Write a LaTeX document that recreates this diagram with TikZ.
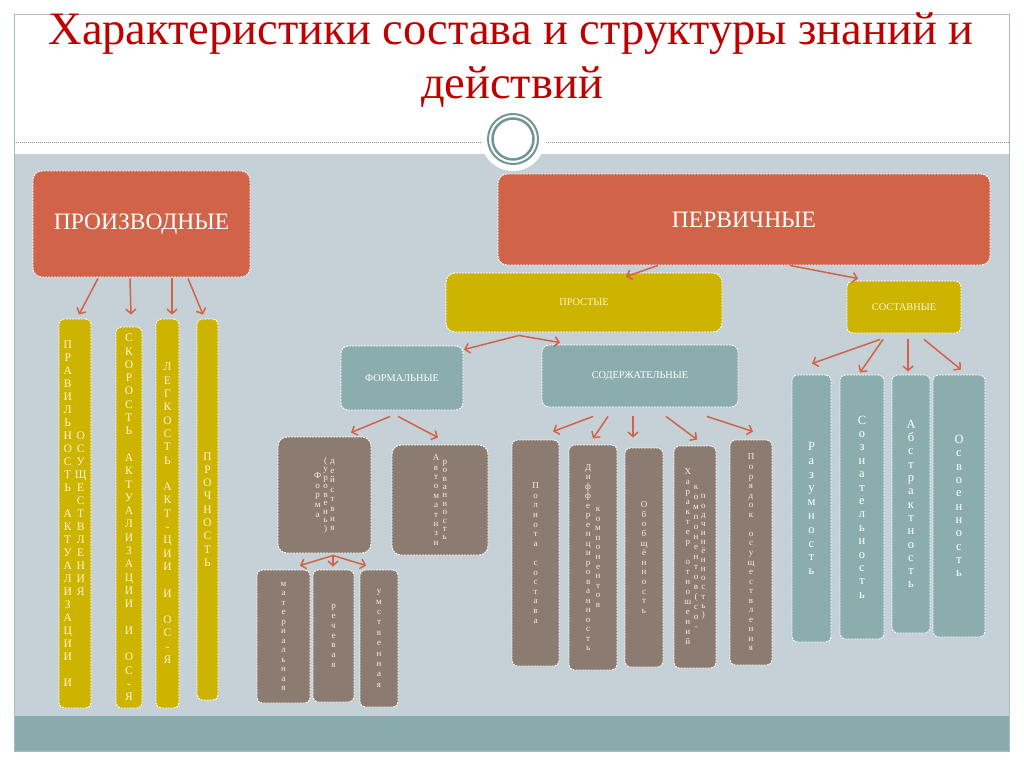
\documentclass[tikz,border=0pt]{standalone}
\usepackage{fontspec}
\setmainfont{Liberation Serif}
\usetikzlibrary{arrows.meta,calc}
\definecolor{cor}{HTML}{D16349}
\definecolor{cye}{HTML}{CCB400}
\definecolor{ctl}{HTML}{8CADAE}
\definecolor{cbr}{HTML}{8C7B70}
\definecolor{cgr}{HTML}{C5D1D7}
\definecolor{cband}{HTML}{8AABAB}
\definecolor{ctitle}{HTML}{C00000}
\definecolor{cring}{HTML}{6F9595}
\definecolor{cframe}{HTML}{A9BCC2}
\definecolor{ccream}{HTML}{FFF6D5}
\definecolor{cpale}{HTML}{F6ECE6}
\ExplSyntaxOn
\cs_new_protected:Npn \vs_build:nn #1#2
  {
    \tl_clear:N \l_tmpa_tl
    \str_map_inline:nn {#2} { \tl_put_right:Nn \l_tmpa_tl { ##1 \cr } }
    \baselineskip = #1 \relax
    \lineskiplimit = -\maxdimen
    \lineskip = 0pt \relax
    \halign { \hfil ## \hfil \cr \l_tmpa_tl }
  }
\NewDocumentCommand \vcol { O{13pt} m }
  { \ensuremath { \vcenter { \vs_build:nn {#1} {#2} } } }
\ExplSyntaxOff
\tikzset{
  bx/.style={draw=white, line width=0.9pt, dash pattern=on 2pt off 1pt, rounded corners=9pt, inner sep=0pt, text=white},
  cbx/.style={bx, rounded corners=5pt},
  arr/.style={draw=cor, line width=1.5pt, -{Straight Barb[length=4.5pt,width=10pt]}},
  bigl/.style={font=\fontsize{23.5}{26}\selectfont},
  smll/.style={font=\fontsize{10.3}{12}\selectfont},
  ycol/.style={cbx, fill=cye, text=ccream, font=\fontsize{11.5}{13}\selectfont},
  bcol/.style={cbx, fill=cbr, text=cpale, font=\fontsize{9}{9.6}\selectfont},
  tcol/.style={cbx, fill=ctl, font=\fontsize{12.5}{13.4}\selectfont},
  ttl/.style={font=\fontsize{46.5}{50}\selectfont, text=ctitle, anchor=base, inner sep=0pt},
}
\begin{document}
\begin{tikzpicture}[x=1pt,y=-1pt]
\useasboundingbox (0,0) rectangle (1024,767);
\fill[white] (0,0) rectangle (1024,767);
\fill[cgr] (14,154) rectangle (1009,716);
\fill[cband] (14,716) rectangle (1009,751);
\draw[cframe, line width=0.8pt] (14,14) rectangle (1009,751);
\draw[cring, line width=0.8pt, dash pattern=on 1pt off 1pt] (14,142) -- (1009,142);
\fill[white] (513,139) circle (32pt);
\draw[cring, line width=2pt] (513,139) circle (25pt);
\draw[cring, line width=2.5pt] (513,139) circle (20.5pt);
\node[ttl] (t1) at (511,45) {Характеристики состава и структуры знаний и};
\node[ttl] (t2) at (512,99) {действий};
% main boxes
\node[bx, fill=cor, minimum width=217pt, minimum height=106pt, bigl] (proizv) at (141.5,224) {ПРОИЗВОДНЫЕ};
\node[bx, fill=cor, minimum width=492pt, minimum height=91pt, bigl] (perv) at (744,219.5) {ПЕРВИЧНЫЕ};
\node[bx, fill=cye, text=ccream, minimum width=276pt, minimum height=59pt, smll] (prost) at (584,302.5) {ПРОСТЫЕ};
\node[bx, fill=cye, text=ccream, minimum width=114pt, minimum height=52pt, smll, rounded corners=6pt] (sost) at (904,307) {СОСТАВНЫЕ};
\node[bx, fill=ctl, minimum width=122pt, minimum height=64pt, smll, rounded corners=7pt] (form) at (402,378) {ФОРМАЛЬНЫЕ};
\node[bx, fill=ctl, minimum width=196pt, minimum height=62pt, smll, rounded corners=7pt] (soder) at (640,376) {СОДЕРЖАТЕЛЬНЫЕ};
% yellow columns
\node[ycol, minimum width=32pt, minimum height=389pt] (y1) at (75,513.5) {\vcol{ПРАВИЛЬНОСТЬ АКТУАЛИЗАЦИИ И}\hspace{3pt}\vcol{ОСУЩЕСТВЛЕНИЯ}};
\node[ycol, minimum width=26pt, minimum height=381pt] (y2) at (129,517.5) {\vcol[13.3pt]{СКОРОСТЬ АКТУАЛИЗАЦИИ И ОС-Я}};
\node[ycol, minimum width=23pt, minimum height=389pt] (y3) at (167.5,513.5) {\vcol[13.3pt]{ЛЕГКОСТЬ АКТ-ЦИИ И ОС-Я}};
\node[ycol, minimum width=21pt, minimum height=381pt] (y4) at (207.5,509.5) {\vcol[13.3pt]{ПРОЧНОСТЬ}};
% brown boxes
\node[bcol, rounded corners=9pt, minimum width=93pt, minimum height=116pt] (fm) at (324.5,495) {\vcol[9.7pt]{Форма}\hspace{2pt}\vcol[8.5pt]{(уровень)}\hspace{2pt}\vcol[9.6pt]{действия}};
\node[bcol, rounded corners=9pt, minimum width=96pt, minimum height=110pt] (avt) at (440,500) {\vcol[9.4pt]{Автоматизи}\hspace{3pt}\vcol[8.4pt]{рованность}};
\node[bcol, minimum width=53pt, minimum height=133pt] (mat) at (283.5,636.5) {\vcol[9.5pt]{материальная}};
\node[bcol, minimum width=41pt, minimum height=132pt] (rech) at (333.5,636) {\vcol[9.8pt]{речевая}};
\node[bcol, minimum width=38pt, minimum height=137pt] (umst) at (379,638.5) {\vcol[10.4pt]{умственная}};
\node[bcol, minimum width=47pt, minimum height=226pt] (poln) at (535.5,553) {\vcol[9.6pt]{Полнота состава}};
\node[bcol, minimum width=48pt, minimum height=225pt] (diff) at (593,557.5) {\vcol[9.5pt]{Дифференцированность}\hspace{4pt}\vcol[9.6pt]{компонентов}};
\node[bcol, minimum width=38pt, minimum height=219pt] (obob) at (644,557.5) {\vcol[9.6pt]{Обобщённость}};
\node[bcol, minimum width=42pt, minimum height=222pt] (har) at (695,557) {\vcol[10pt]{Характер отношений}\hspace{2pt}\vcol[10pt]{компонентов(со-}\hspace{2pt}\vcol[9.1pt]{подчинённость)}};
\node[bcol, minimum width=42pt, minimum height=225pt] (por) at (751,552.5) {\vcol[9.55pt]{Порядок осуществления}};
% teal columns
\node[tcol, minimum width=39pt, minimum height=267pt] (raz) at (811.5,508.5) {\vcol[13.8pt]{Разумность}};
\node[tcol, minimum width=44pt, minimum height=264pt] (soz) at (862,507) {\vcol[13.4pt]{Сознательность}};
\node[tcol, minimum width=38pt, minimum height=258pt] (abs) at (911,504) {\vcol[13.3pt]{Абстрактность}};
\node[tcol, minimum width=52pt, minimum height=262pt] (osv) at (959,506) {\vcol[13.3pt]{Освоенность}};
% arrows
\draw[arr] ($(proizv.south)+(-43.5,1)$) -- ($(y1.north)+(4,-4)$);
\draw[arr] ($(proizv.south)+(-11.5,1)$) -- ($(y2.north)+(2,-12)$);
\draw[arr] ($(proizv.south)+(30.5,1)$) -- ($(y3.north)+(4.5,-4)$);
\draw[arr] ($(proizv.south)+(46.5,1)$) -- ($(y4.north)+(-4.5,-4)$);
\draw[arr] ($(perv.south)+(-86,0)$) -- ($(prost.north)+(42,4)$);
\draw[arr] ($(perv.south)+(46,0)$) -- ($(sost.north)+(-46,-2)$);
\draw[arr] ($(prost.south)+(-65,3)$) -- ($(form.north)+(62,4)$);
\draw[arr] ($(prost.south)+(-65,3)$) -- ($(soder.north)+(-80,-2)$);
\draw[arr] ($(form.south)+(-12,6)$) -- ($(fm.north)+(26.5,-4)$);
\draw[arr] ($(form.south)+(-4,6)$) -- ($(avt.north)+(-2,-7)$);
\draw[arr] ($(soder.south)+(-47,9)$) -- ($(poln.north)+(17.5,-8)$);
\draw[arr] ($(soder.south)+(-32,9)$) -- ($(diff.north)+(0,-6)$);
\draw[arr] ($(soder.south)+(-7,9)$) -- ($(obob.north)+(-11,-10)$);
\draw[arr] ($(soder.south)+(26,9)$) -- ($(har.north)+(2,-6)$);
\draw[arr] ($(soder.south)+(67,9)$) -- ($(por.north)+(2,-8)$);
\draw[arr] ($(sost.south)+(-24,6)$) -- ($(raz.north)+(0.5,-11)$);
\draw[arr] ($(sost.south)+(-21,6)$) -- ($(soz.north)+(-2,-2)$);
\draw[arr] ($(sost.south)+(4,6)$) -- ($(abs.north)+(-3,-3)$);
\draw[arr] ($(sost.south)+(20,6)$) -- ($(osv.north)+(2,-5)$);
\draw[arr] ($(fm.south)+(8.5,2)$) -- ($(mat.north)+(16.5,-4)$);
\draw[arr] ($(fm.south)+(8.5,2)$) -- ($(rech.north)+(-0.5,-3)$);
\draw[arr] ($(fm.south)+(8.5,2)$) -- ($(umst.north)+(-13,-4)$);
\end{tikzpicture}
\end{document}
